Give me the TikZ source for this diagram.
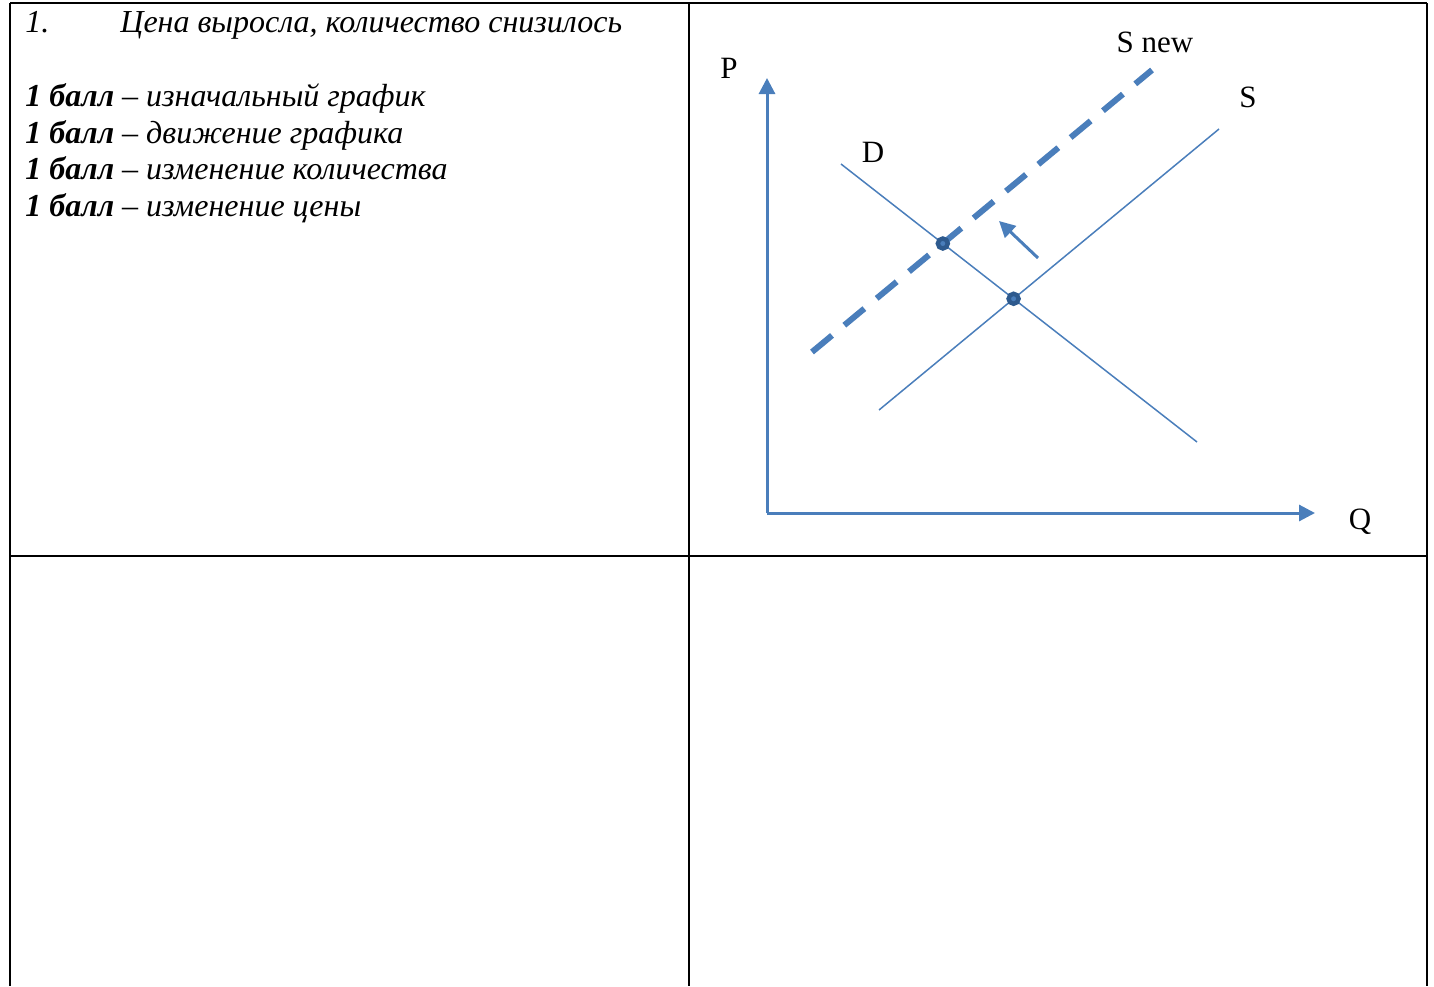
\documentclass[tikz,border=0pt]{standalone}
\usepackage{fontspec}
\setmainfont{Liberation Serif}
\usetikzlibrary{arrows.meta, intersections}

\definecolor{lineblue}{HTML}{4A7EBB}
\definecolor{dotblue}{HTML}{2E5A8E}

\begin{document}
\begin{tikzpicture}[x=0.5pt, y=-0.5pt,
  grid/.style={line width=1pt, black},
  axis/.style={line width=1.5pt, color=lineblue, -{Triangle[length=8pt, width=8pt]}},
  curve/.style={line width=0.75pt, color=lineblue},
  newcurve/.style={line width=3pt, color=lineblue, dash pattern=on 13pt off 8pt},
  shiftarr/.style={line width=1.5pt, color=lineblue, -{Triangle[length=8pt, width=8pt]}},
  dot/.style={circle, draw=dotblue, line width=2.2pt, fill=lineblue, inner sep=0pt, minimum size=5pt},
  lbl/.style={font=\fontsize{15.5}{18}\selectfont, inner sep=0pt},
  txt/.style={font=\fontsize{16}{19}\selectfont\itshape, inner sep=0pt, anchor=base west},
]
\useasboundingbox (0,0) rectangle (1434,986);

% Table rules
\draw[grid] (10,3) -- (1427,3);
\draw[grid] (10,556) -- (1427,556);
\draw[grid] (10,3) -- (10,986);
\draw[grid] (689,3) -- (689,986);
\draw[grid] (1427,3) -- (1427,986);

% Answer text
\node[txt] (num) at (25,32) {1.};
\node[txt] (ans) at (120,32) {Цена выросла, количество снизилось};
\node[txt] (b1) at (25,106) {\textbf{1 балл} – изначальный график};
\node[txt] (b2) at (25,143) {\textbf{1 балл} – движение графика};
\node[txt] (b3) at (25,179) {\textbf{1 балл} – изменение количества};
\node[txt] (b4) at (25,216) {\textbf{1 балл} – изменение цены};

% Axes
\coordinate (O) at (767,513);
\coordinate (Ptop) at (767,78);
\coordinate (Qend) at (1315,513);
\draw[axis] (O) -- (Ptop);
\draw[axis] (O) -- (Qend);
\node[lbl] (P) at (729,68) {P};
\node[lbl] (Q) at (1360,522) {Q};

% Demand, supply and shifted supply
\coordinate (d1) at (841,164);
\coordinate (d2) at (1197,442);
\coordinate (s1) at (879,410);
\coordinate (s2) at (1219,129);
\coordinate (n1) at (812,352);
\coordinate (n2) at (1152,70);
\draw[curve, name path=dline] (d1) -- (d2);
\draw[curve, name path=sline] (s1) -- (s2);
\draw[newcurve, name path=nline] (n1) -- (n2);
\node[lbl] (D) at (873,152) {D};
\node[lbl] (S) at (1248,97) {S};
\node[lbl] (Snew) at (1155,42) {S new};

% Shift arrow
\coordinate (a1) at (1038,258);
\coordinate (a2) at (999,221);
\draw[shiftarr] (a1) -- (a2);

% Equilibrium points
\path[name intersections={of=dline and sline, by=e1}];
\path[name intersections={of=dline and nline, by=e2}];
\node[dot] (eq1) at (e1) {};
\node[dot] (eq2) at (e2) {};

\end{tikzpicture}
\end{document}
